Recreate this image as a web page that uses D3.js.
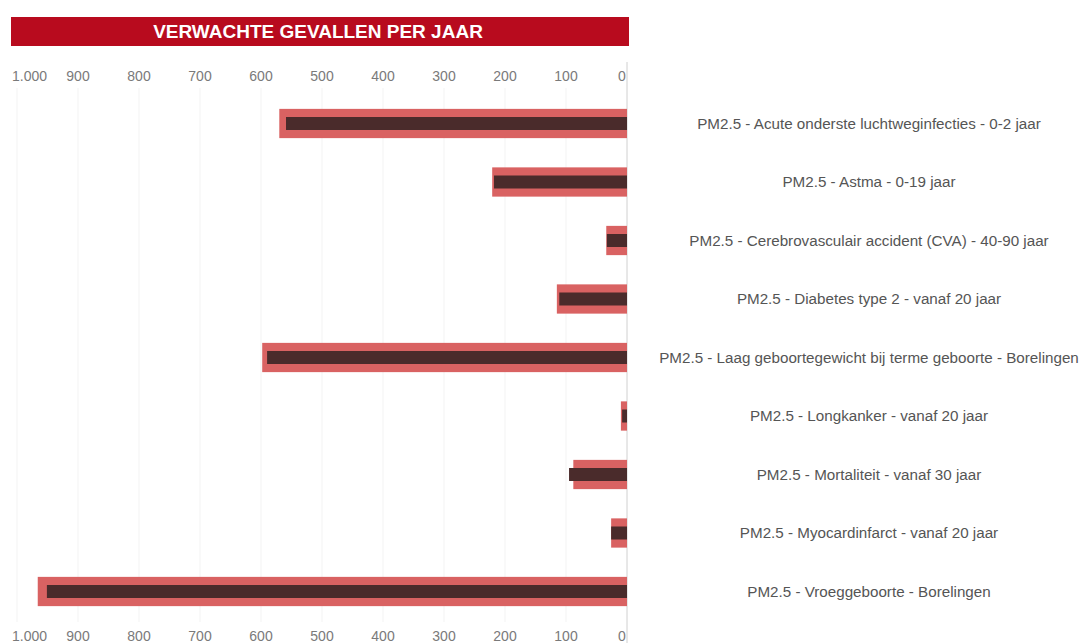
<!DOCTYPE html>
<html>
<head>
<meta charset="utf-8">
<script src="https://cdn.jsdelivr.net/npm/d3@7"></script>
<style>
  body { margin: 0; background: #fff; }
  svg { display: block; font-family: "Liberation Sans", Arial, sans-serif; }
</style>
</head>
<body>
<svg id="chart" width="1081" height="643"></svg>
<script>
const categories = [
    "PM2.5 - Acute onderste luchtweginfecties - 0-2 jaar",
    "PM2.5 - Astma - 0-19 jaar",
    "PM2.5 - Cerebrovasculair accident (CVA) - 40-90 jaar",
    "PM2.5 - Diabetes type 2 - vanaf 20 jaar",
    "PM2.5 - Laag geboortegewicht bij terme geboorte - Borelingen",
    "PM2.5 - Longkanker - vanaf 20 jaar",
    "PM2.5 - Mortaliteit - vanaf 30 jaar",
    "PM2.5 - Myocardinfarct - vanaf 20 jaar",
    "PM2.5 - Vroeggeboorte - Borelingen"
];
// wide light bar and narrow dark bar
const outerValues = [570, 221, 34, 115, 598, 10, 88, 26, 966];
const innerValues = [559, 218, 33, 111, 590, 8, 95, 26, 951];
const tickValues = [0, 100, 200, 300, 400, 500, 600, 700, 800, 900, 1000];

const svg = d3.select("#chart");
const fmt = d => d === 1000 ? "1.000" : String(d);

const x = d3.scaleLinear().domain([0, 1000]).range([627, 17]);
const y = d3.scaleBand()
    .domain(categories)
    .range([94.25, 620.75])
    .paddingInner(0.5)
    .paddingOuter(0.25);

// title bar
svg.append("rect")
    .attr("x", 11).attr("y", 17)
    .attr("width", 618).attr("height", 29)
    .attr("fill", "#b80b1e");
svg.append("text")
    .attr("x", 318).attr("y", 38)
    .attr("text-anchor", "middle")
    .attr("fill", "#fff")
    .attr("font-weight", "bold")
    .attr("font-size", 19)
    .text("VERWACHTE GEVALLEN PER JAAR");

// grid
svg.append("g")
    .selectAll("line")
    .data(tickValues.filter(d => d > 0))
    .join("line")
    .attr("x1", d => x(d)).attr("x2", d => x(d))
    .attr("y1", 88).attr("y2", 622)
    .attr("stroke", "#f3f3f3");

// zero line
svg.append("line")
    .attr("x1", x(0)).attr("x2", x(0))
    .attr("y1", 62).attr("y2", 643)
    .attr("stroke", "#d0d0d0");

// tick labels top and bottom
const labelX = d => {
    if (d === 1000) return 12;
    if (d === 0) return x(d) - 5;
    return x(d);
};
[76, 636].forEach(yy => {
    svg.append("g")
        .selectAll("text")
        .data(tickValues)
        .join("text")
        .attr("x", labelX)
        .attr("y", yy + 5)
        .attr("text-anchor", d => d === 1000 ? "start" : "middle")
        .attr("fill", "#7a7a7a")
        .attr("font-size", 14)
        .text(fmt);
});

const rows = categories.map((c, i) => ({ cat: c, outer: outerValues[i], inner: innerValues[i] }));

// outer bars
svg.append("g")
    .selectAll("rect")
    .data(rows)
    .join("rect")
    .attr("x", d => x(d.outer))
    .attr("y", d => y(d.cat))
    .attr("width", d => x(0) - x(d.outer))
    .attr("height", y.bandwidth())
    .attr("fill", "#d96262");

// inner bars
const innerH = 13;
svg.append("g")
    .selectAll("rect")
    .data(rows)
    .join("rect")
    .attr("x", d => x(d.inner))
    .attr("y", d => y(d.cat) + (y.bandwidth() - innerH) / 2)
    .attr("width", d => x(0) - x(d.inner))
    .attr("height", innerH)
    .attr("fill", "#4a2b2b");

// category labels
svg.append("g")
    .selectAll("text")
    .data(categories)
    .join("text")
    .attr("x", 869)
    .attr("y", d => y(d) + y.bandwidth() / 2 + 5)
    .attr("text-anchor", "middle")
    .attr("fill", "#555")
    .attr("font-size", 15.2)
    .text(d => d);
</script>
</body>
</html>
